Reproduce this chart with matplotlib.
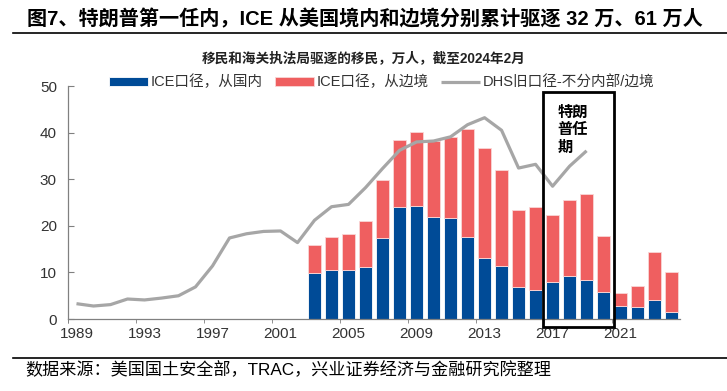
import matplotlib
matplotlib.use("Agg")
import matplotlib.pyplot as plt
from matplotlib.lines import Line2D
from matplotlib.patches import Rectangle

plt.rcParams['font.family'] = ['Liberation Sans', 'Noto Sans CJK SC']

# data (万人), fiscal years
line_years = list(range(1989, 2020))
dhs_old = [3.3, 2.8, 3.1, 4.3, 4.1, 4.5, 5.0, 6.9, 11.4, 17.4, 18.3, 18.8, 18.9,
           16.4, 21.2, 24.1, 24.6, 28.2, 32.3, 36.2, 38.0, 38.2, 39.1, 41.7,
           43.2, 40.5, 32.4, 33.2, 28.5, 32.8, 36.1]

bar_years = list(range(2003, 2025))
interior = [9.9, 10.6, 10.6, 11.1, 17.4, 24.1, 24.2, 22.0, 21.7, 17.6, 13.0,
            11.4, 6.8, 6.3, 7.9, 9.2, 8.3, 5.9, 2.9, 2.6, 4.1, 1.6]
total = [15.9, 17.6, 18.2, 21.0, 29.9, 38.5, 40.1, 38.1, 39.0, 40.7, 36.8,
         31.9, 23.5, 24.0, 22.4, 25.6, 26.9, 17.9, 5.6, 7.1, 14.4, 10.1]
border = [t - i for t, i in zip(total, interior)]

tick_years = [1989, 1993, 1997, 2001, 2005, 2009, 2013, 2017, 2021]

blue = '#004B97'
red = '#EF5F60'
grey = '#A6A6A6'

fig = plt.figure(figsize=(7.27, 3.91), dpi=100)
ax = fig.add_axes([0.0935, 0.184, 0.842, 0.596])

b1 = ax.bar(bar_years, interior, width=0.8, color=blue, edgecolor='white',
            linewidth=0.6, label='ICE口径，从国内', zorder=2)
b2 = ax.bar(bar_years, border, bottom=interior, width=0.8, color=red,
            edgecolor='#F9D6D6', linewidth=0.6, label='ICE口径，从边境', zorder=2)
l1, = ax.plot(line_years, dhs_old, color=grey, lw=2.3,
              label='DHS旧口径-不分内部/边境', zorder=3, solid_capstyle='butt')

# Trump first term box
ax.add_patch(Rectangle((2016.45, -1.7), 4.15, 50.4, fill=False, ec='black',
                       lw=2, clip_on=False, zorder=4))
ax.text(2017.3, 45.8, '特朗\n普任\n期', fontsize=11, fontweight='bold',
        style='italic', va='top', ha='left', linespacing=1.3, zorder=5)

ax.set_xlim(1988.5, 2024.5)
ax.set_ylim(0, 50)
ax.set_yticks(range(0, 51, 10))
ax.set_xticks(tick_years)
ax.set_xticks([y - 0.5 for y in tick_years] + [1988.5], minor=True)
ax.tick_params(axis='x', which='major', length=0, pad=6, labelsize=11,
               labelcolor='#333333')
ax.tick_params(axis='x', which='minor', length=3, direction='out',
               color='#808080')
ax.tick_params(axis='y', length=4, direction='in', color='#808080',
               labelsize=11, labelcolor='#333333', pad=8)
for s in ['top', 'right']:
    ax.spines[s].set_visible(False)
for s in ['left', 'bottom']:
    ax.spines[s].set_color('#808080')
    ax.spines[s].set_linewidth(0.9)

fig.legend(handles=[b1, b2, l1], loc='center', bbox_to_anchor=(0.525, 0.790),
           ncol=3, frameon=False, fontsize=10.5, handlelength=2.7,
           handleheight=0.6, handletextpad=0.2, columnspacing=0.8, borderpad=0,
           labelcolor='#333333')

fig.text(0.037, 0.951, '图7、特朗普第一任内，ICE 从美国境内和边境分别累计驱逐 32 万、61 万人',
         fontsize=14.5, fontweight='bold', va='center', ha='left')
fig.text(0.5, 0.852, '移民和海关执法局驱逐的移民，万人，截至2024年2月',
         fontsize=9.8, fontweight='bold', va='center', ha='center', color='#222222')
fig.text(0.035, 0.054, '数据来源：美国国土安全部，TRAC，兴业证券经济与金融研究院整理',
         fontsize=12.3, va='center', ha='left')

fig.add_artist(Line2D([0.018, 1.0], [0.916, 0.916], color='black', lw=1.2))
fig.add_artist(Line2D([0.018, 1.0], [0.084, 0.084], color='black', lw=1.2))

fig.savefig('out.png', dpi=100)
